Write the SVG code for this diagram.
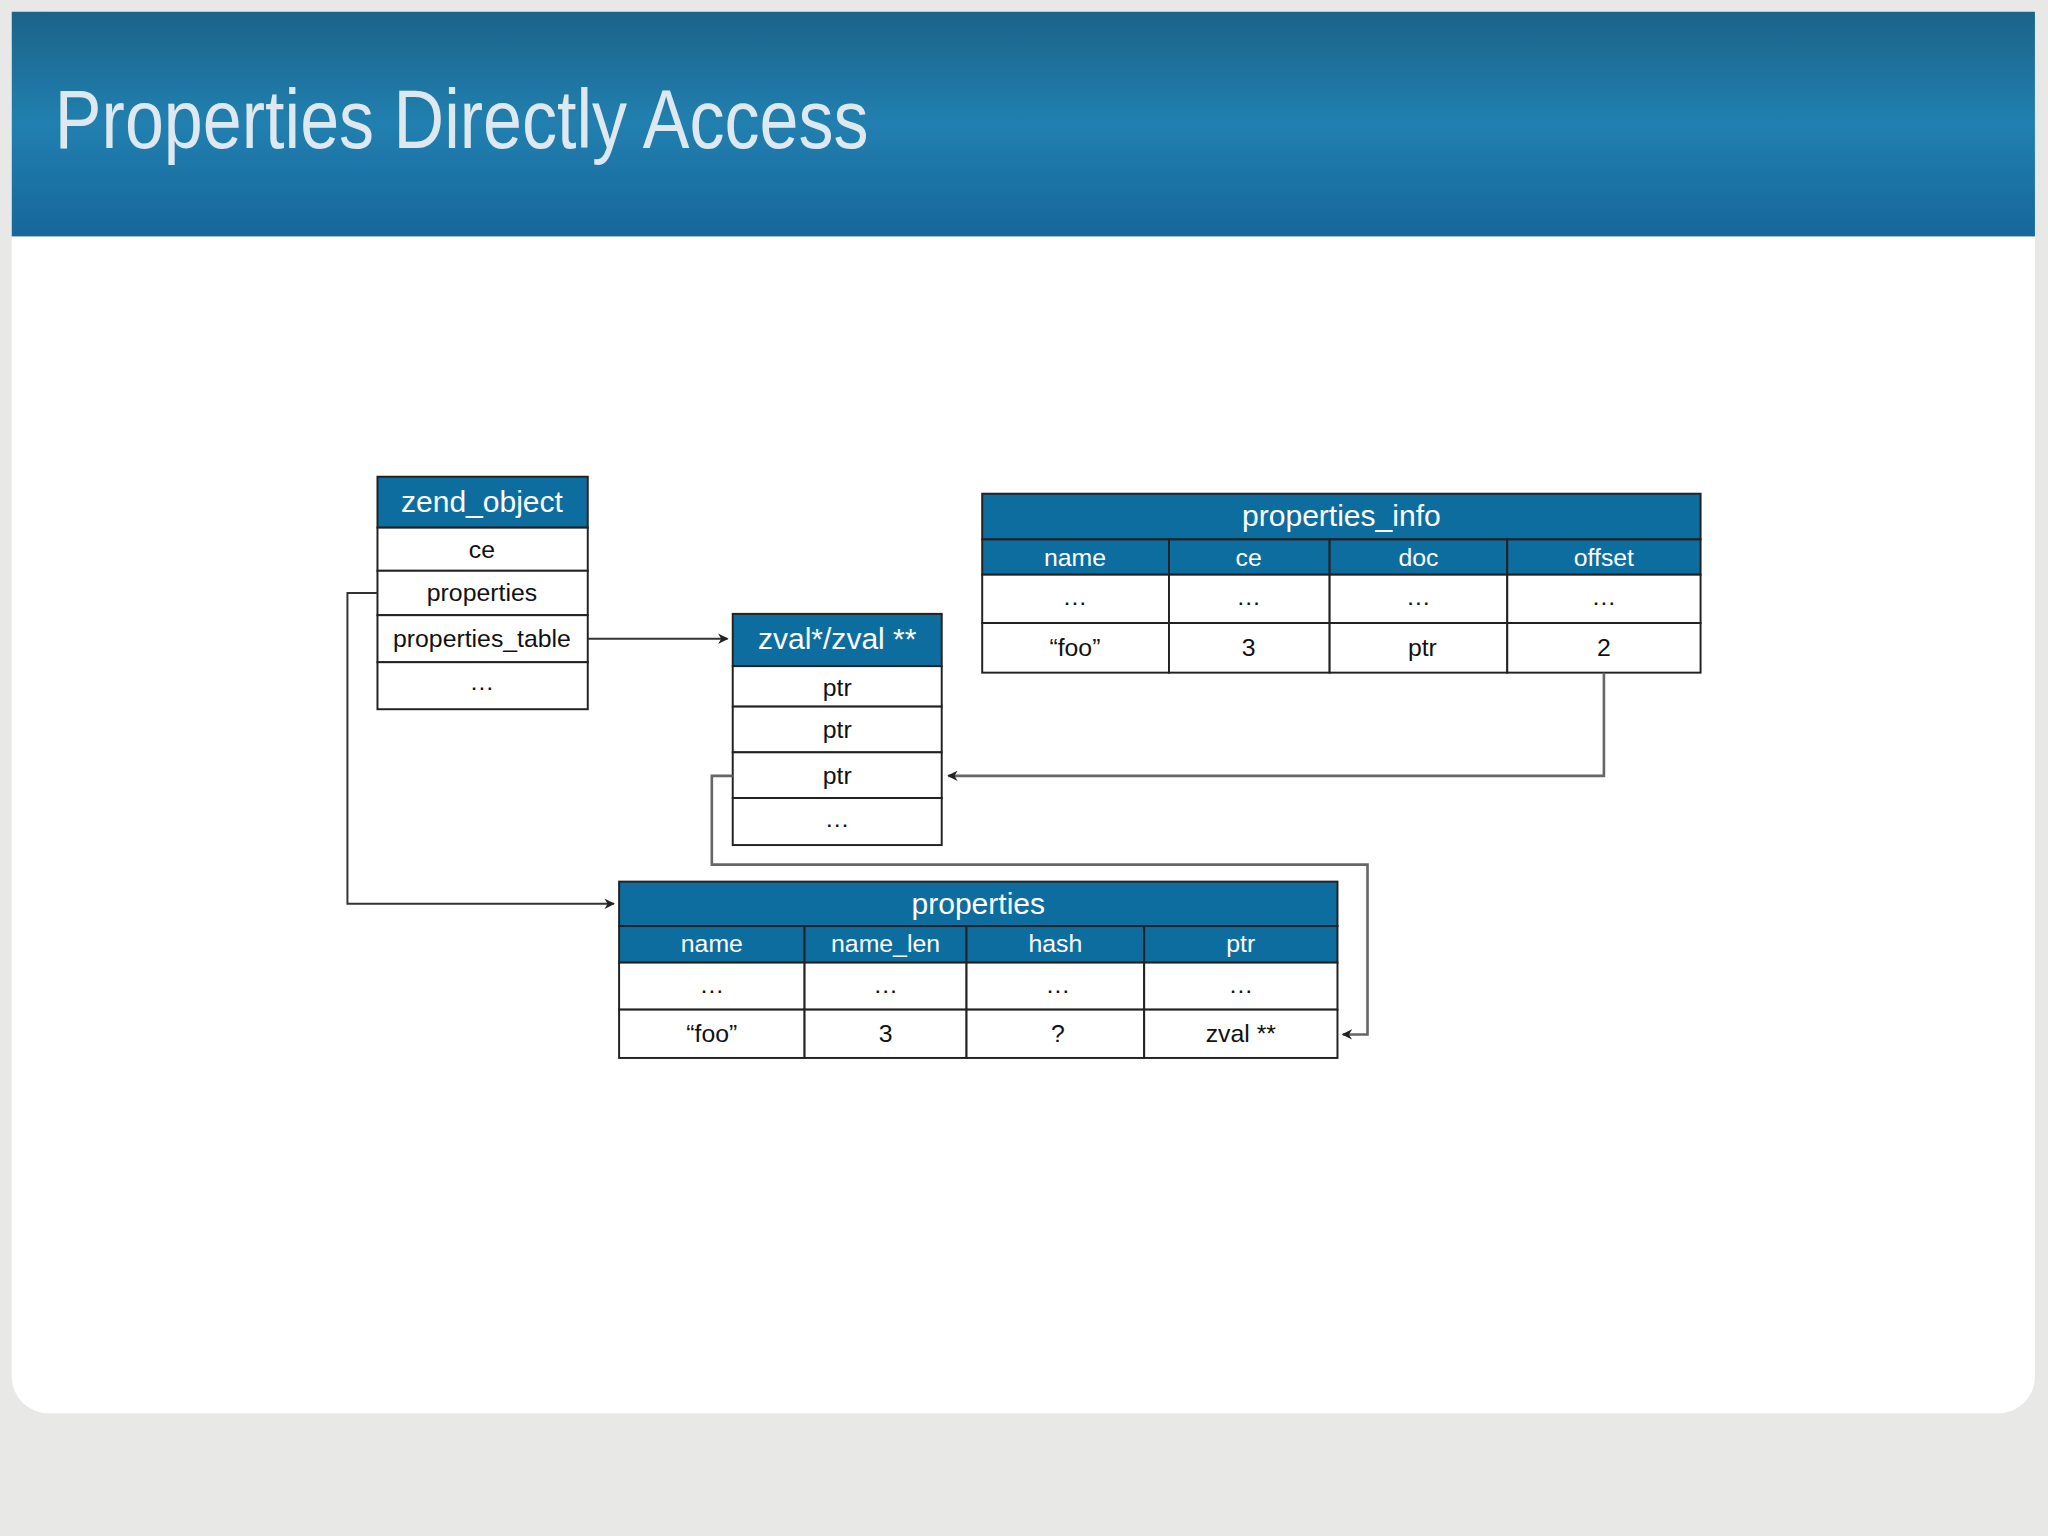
<svg xmlns="http://www.w3.org/2000/svg" width="2048" height="1536" viewBox="0 0 2048 1536">
<defs>
<linearGradient id="hg" x1="0" y1="0" x2="0" y2="1"><stop offset="0" stop-color="#1b6389"/><stop offset="0.5" stop-color="#2180b0"/><stop offset="1" stop-color="#16669a"/></linearGradient>
<marker id="ar" viewBox="0 0 10 10" refX="9" refY="5" markerWidth="8" markerHeight="8" orient="auto" markerUnits="userSpaceOnUse"><path d="M0,0 L10,5 L0,10 L3,5 Z" fill="#222"/></marker>
<style>
.h{fill:#0e6d9f;stroke:#222;stroke-width:1.5}
.c{fill:#fff;stroke:#222;stroke-width:1.5}
.t{font-family:"Liberation Sans",Arial,sans-serif;font-size:19px;text-anchor:middle;fill:#111}
.w{font-family:"Liberation Sans",Arial,sans-serif;font-size:19px;text-anchor:middle;fill:#fff}
.big{font-size:23px}
.ln{fill:none;stroke:#333;stroke-width:1.5}
.gl{fill:none;stroke:#666;stroke-width:2}
</style>
</defs>
<rect width="2048" height="1536" fill="#e8e9e6"/>
<g transform="scale(1.30612)">
<rect x="9" y="9" width="1549" height="1073" rx="28" fill="#fff"/>
<rect x="9" y="9" width="1549" height="172" fill="url(#hg)"/>
<text x="42" y="113" font-family="Liberation Sans,Arial,sans-serif" font-size="64" fill="#dde8f0" textLength="623" lengthAdjust="spacingAndGlyphs">Properties Directly Access</text>

<g id="zend_object">
<rect class="h" x="289" y="365" width="161" height="39"/>
<text class="w big" x="369" y="392">zend_object</text>
<rect class="c" x="289" y="404" width="161" height="33"/><text class="t" x="369" y="427">ce</text>
<rect class="c" x="289" y="437" width="161" height="34"/><text class="t" x="369" y="460">properties</text>
<rect class="c" x="289" y="471" width="161" height="36"/><text class="t" x="369" y="495">properties_table</text>
<rect class="c" x="289" y="507" width="161" height="36"/><text class="t" x="369" y="528">…</text>
</g>

<g id="zval">
<rect class="h" x="561" y="470" width="160" height="40"/>
<text class="w big" x="641" y="497">zval*/zval **</text>
<rect class="c" x="561" y="510" width="160" height="31"/><text class="t" x="641" y="533">ptr</text>
<rect class="c" x="561" y="541" width="160" height="35"/><text class="t" x="641" y="565">ptr</text>
<rect class="c" x="561" y="576" width="160" height="35"/><text class="t" x="641" y="600">ptr</text>
<rect class="c" x="561" y="611" width="160" height="36"/><text class="t" x="641" y="633">…</text>
</g>

<g id="properties_info">
<rect class="h" x="752" y="378" width="550" height="35"/>
<text class="w big" x="1027" y="403">properties_info</text>
<rect class="h" x="752" y="413" width="143" height="27"/><text class="w" x="823" y="433">name</text>
<rect class="h" x="895" y="413" width="123" height="27"/><text class="w" x="956" y="433">ce</text>
<rect class="h" x="1018" y="413" width="136" height="27"/><text class="w" x="1086" y="433">doc</text>
<rect class="h" x="1154" y="413" width="148" height="27"/><text class="w" x="1228" y="433">offset</text>
<rect class="c" x="752" y="440" width="143" height="37"/><text class="t" x="823" y="463">…</text>
<rect class="c" x="895" y="440" width="123" height="37"/><text class="t" x="956" y="463">…</text>
<rect class="c" x="1018" y="440" width="136" height="37"/><text class="t" x="1086" y="463">…</text>
<rect class="c" x="1154" y="440" width="148" height="37"/><text class="t" x="1228" y="463">…</text>
<rect class="c" x="752" y="477" width="143" height="38"/><text class="t" x="823" y="502">“foo”</text>
<rect class="c" x="895" y="477" width="123" height="38"/><text class="t" x="956" y="502">3</text>
<rect class="c" x="1018" y="477" width="136" height="38"/><text class="t" x="1089" y="502">ptr</text>
<rect class="c" x="1154" y="477" width="148" height="38"/><text class="t" x="1228" y="502">2</text>
</g>

<g id="properties">
<rect class="h" x="474" y="675" width="550" height="34"/>
<text class="w big" x="749" y="700">properties</text>
<rect class="h" x="474" y="709" width="142" height="28"/><text class="w" x="545" y="729">name</text>
<rect class="h" x="616" y="709" width="124" height="28"/><text class="w" x="678" y="729">name_len</text>
<rect class="h" x="740" y="709" width="136" height="28"/><text class="w" x="808" y="729">hash</text>
<rect class="h" x="876" y="709" width="148" height="28"/><text class="w" x="950" y="729">ptr</text>
<rect class="c" x="474" y="737" width="142" height="36"/><text class="t" x="545" y="760">…</text>
<rect class="c" x="616" y="737" width="124" height="36"/><text class="t" x="678" y="760">…</text>
<rect class="c" x="740" y="737" width="136" height="36"/><text class="t" x="810" y="760">…</text>
<rect class="c" x="876" y="737" width="148" height="36"/><text class="t" x="950" y="760">…</text>
<rect class="c" x="474" y="773" width="142" height="37"/><text class="t" x="545" y="798">“foo”</text>
<rect class="c" x="616" y="773" width="124" height="37"/><text class="t" x="678" y="798">3</text>
<rect class="c" x="740" y="773" width="136" height="37"/><text class="t" x="810" y="798">?</text>
<rect class="c" x="876" y="773" width="148" height="37"/><text class="t" x="950" y="798">zval **</text>
</g>

<g id="connectors">
<path class="ln" d="M450,489 L557,489" marker-end="url(#ar)"/>
<path class="ln" d="M289,454 L266,454 L266,692 L470,692" marker-end="url(#ar)"/>
<path class="gl" d="M1228,515 L1228,594 L726,594" marker-end="url(#ar)"/>
<path class="gl" d="M561,594 L545,594 L545,662 L1047,662 L1047,792 L1028,792" marker-end="url(#ar)"/>
</g>
</g>
</svg>
